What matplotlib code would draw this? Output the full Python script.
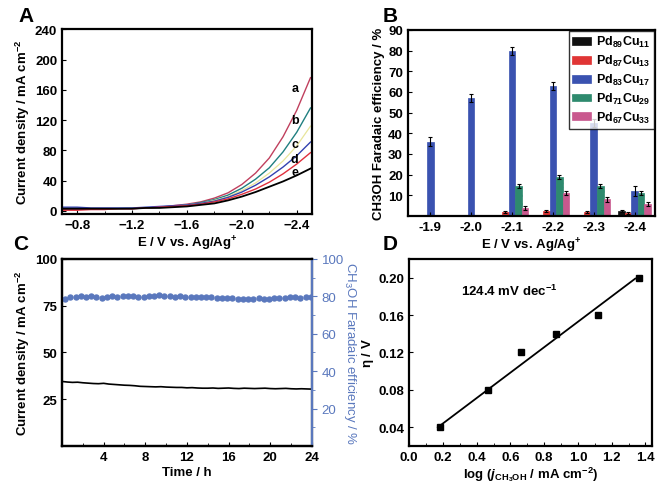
import matplotlib
matplotlib.use("Agg")
import matplotlib.pyplot as plt
import numpy as np

plt.rcParams['font.family'] = ['Liberation Sans', 'DejaVu Sans']
plt.rcParams['font.weight'] = 'bold'
plt.rcParams['axes.labelweight'] = 'bold'
plt.rcParams['mathtext.fontset'] = 'custom'
plt.rcParams['mathtext.rm'] = 'Liberation Sans:bold'
plt.rcParams['mathtext.it'] = 'Liberation Sans:italic:bold'
plt.rcParams['mathtext.bf'] = 'Liberation Sans:bold'
plt.rcParams['mathtext.default'] = 'regular'
plt.rcParams['axes.linewidth'] = 1.6

# ---- panel A: LSV curves
potential = [-0.7, -0.8, -0.9, -1.0, -1.1, -1.2, -1.3, -1.4, -1.5, -1.6,
             -1.7, -1.8, -1.9, -2.0, -2.1, -2.2, -2.3, -2.4, -2.5]
curve_a = [2, 2, 2, 2, 3, 3, 4, 5, 7, 9, 12, 17, 24, 35, 50, 70, 98, 133, 176]
curve_b = [4, 4, 3, 3, 3, 4, 4, 5, 6, 8, 11, 15, 21, 30, 42, 57, 78, 104, 136]
curve_y = [4, 4, 4, 3, 3, 4, 4, 5, 6, 8, 10, 14, 19, 27, 37, 50, 66, 86, 112]
curve_c = [5, 5, 4, 4, 4, 4, 5, 6, 7, 8, 10, 13, 18, 25, 34, 45, 58, 73, 91]
curve_d = [1, 1, 2, 2, 3, 3, 4, 5, 6, 7, 9, 12, 16, 22, 29, 38, 49, 62, 77]
curve_e = [3, 3, 3, 3, 3, 3, 4, 4, 5, 6, 8, 10, 14, 19, 25, 32, 39, 47, 56]
curve_labels = ['a', 'b', 'c', 'd', 'e']
label_pos = [(-2.385, 163), (-2.385, 120), (-2.385, 89), (-2.385, 69), (-2.385, 51)]

# ---- panel B: Faradaic efficiency bars
potentials_b = ['-1.9', '-2.0', '-2.1', '-2.2', '-2.3', '-2.4']
alloys = [r'Pd$_{89}$Cu$_{11}$', r'Pd$_{87}$Cu$_{13}$', r'Pd$_{83}$Cu$_{17}$',
          r'Pd$_{71}$Cu$_{29}$', r'Pd$_{67}$Cu$_{33}$']
fe_values = [
    [0, 0, 0, 0, 0, 2.5],
    [0, 0, 2, 2.5, 2, 1.5],
    [36, 57, 80, 63, 45, 12],
    [0, 0, 14.5, 19, 14.5, 11],
    [0, 0, 4, 11, 8, 6],
]
fe_errors = [
    [0, 0, 0, 0, 0, 0.5],
    [0, 0, 0.5, 0.5, 0.5, 0.3],
    [2, 2, 2, 2, 2, 2.5],
    [0, 0, 1, 1, 1, 1],
    [0, 0, 1, 1, 1, 1],
]
bar_colors = ['#101010', '#e03535', '#3a52b0', '#2e8a6e', '#c9588e']

# ---- panel C: stability
current = [34.5, 34.2, 34.0, 34.1, 33.8, 33.6, 33.4, 33.3, 33.5, 33.1,
           32.9, 32.7, 32.5, 32.4, 32.2, 31.9, 31.8, 31.7, 31.6, 31.7,
           31.5, 31.4, 31.3, 31.3, 31.1, 31.2, 31.0, 30.9, 30.9, 31.0,
           30.8, 30.9, 31.0, 30.8, 30.7, 30.9, 30.8, 30.7, 30.8, 30.9,
           30.7, 30.6, 30.7, 30.8, 30.6, 30.5, 30.6, 30.5, 30.4]
fe_time = [78.5, 79.8, 79.5, 80.2, 79.9, 80.3, 79.7, 79.0,
           79.6, 80.0, 79.8, 80.3, 80.1, 80.4, 79.9, 79.5,
           80.2, 80.0, 80.5, 80.1, 80.2, 79.9, 80.0, 79.8,
           79.6, 79.7, 79.5, 79.8, 79.4, 79.2, 79.0, 79.3,
           79.1, 78.8, 78.6, 78.8, 78.7, 78.9, 78.6, 78.8,
           79.0, 78.9, 79.2, 79.4, 79.6, 79.3, 79.5, 79.8]

# ---- panel D: Tafel
log_j = [0.18, 0.47, 0.66, 0.87, 1.12, 1.36]
eta = [0.04, 0.08, 0.12, 0.14, 0.16, 0.20]
fit_x = [0.17, 1.34]
fit_y = [0.040, 0.199]

fs = 9.5
fig = plt.figure(figsize=(6.61, 4.85), dpi=100)

# A
axA = fig.add_axes([0.0938, 0.5567, 0.378, 0.381])
for ys, col, lw in [(curve_a, '#c0405e', 1.0), (curve_b, '#1f7f80', 1.0),
                    (curve_y, '#e8e59a', 0.9), (curve_c, '#3342b0', 1.0),
                    (curve_d, '#e0303c', 1.0), (curve_e, '#000000', 1.3)]:
    axA.plot(potential, ys, color=col, lw=lw)
for lab, (x, y) in zip(curve_labels, label_pos):
    axA.text(x, y, lab, fontsize=fs - 0.5, ha='center', va='center')
axA.set_xlim(-0.69, -2.51)
axA.set_ylim(-4, 240)
axA.set_xticks([-0.8, -1.2, -1.6, -2.0, -2.4])
axA.set_xticks([-1.0, -1.4, -1.8, -2.2], minor=True)
axA.set_yticks(range(0, 241, 40))
axA.set_xlabel(r'E / V vs. Ag/Ag$^{+}$', fontsize=fs, labelpad=2)
axA.set_ylabel(r'Current density / mA cm$^{-2}$', fontsize=fs, labelpad=2)

# B
axB = fig.add_axes([0.617, 0.5526, 0.374, 0.3835])
x = np.arange(len(potentials_b))
w = 0.16
for i in range(len(alloys)):
    vals = np.array(fe_values[i], dtype=float)
    errs = np.array(fe_errors[i], dtype=float)
    mask = vals > 0
    hatch = '....' if i in (1, 3) else None
    axB.bar(x[mask] + (i - 2) * w, vals[mask], w, color=bar_colors[i],
            edgecolor=bar_colors[i], hatch=hatch, linewidth=0.5,
            yerr=errs[mask], capsize=1.5, error_kw=dict(lw=0.8, capthick=0.8),
            label=alloys[i])
axB.set_xlim(-0.55, 5.5)
axB.set_ylim(0, 90)
axB.set_yticks(range(10, 91, 10))
axB.set_xticks(x)
axB.set_xticklabels(potentials_b)
axB.tick_params(axis='x', length=0)
axB.set_xlabel(r'E / V vs. Ag/Ag$^{+}$', fontsize=fs, labelpad=2)
axB.set_ylabel('CH3OH Faradaic efficiency / %', fontsize=fs, labelpad=2)
leg = axB.legend(loc='upper right', fontsize=fs - 0.5, frameon=True, fancybox=False,
                 edgecolor='black', borderaxespad=0.05, handlelength=1.5,
                 handleheight=0.6, handletextpad=0.4, labelspacing=0.3,
                 borderpad=0.3)
leg.get_frame().set_linewidth(1.0)

# C
axC = fig.add_axes([0.0938, 0.0784, 0.378, 0.3856])
axC.plot(np.linspace(0, 24, len(current)), current, color='black', lw=1.2)
axC.set_xlim(0, 24)
axC.set_ylim(0, 100)
axC.set_xticks(range(4, 25, 4))
axC.set_xticks(range(2, 25, 4), minor=True)
axC.set_yticks([25, 50, 75, 100])
axC.set_xlabel('Time / h', fontsize=fs, labelpad=2)
axC.set_ylabel(r'Current density / mA cm$^{-2}$', fontsize=fs, labelpad=2)
axC2 = axC.twinx()
blue = '#5a78bd'
axC2.plot(np.linspace(0.3, 23.9, len(fe_time)), fe_time, 'o', color=blue,
          markersize=3.6)
axC2.set_ylim(0, 100)
axC2.set_yticks(range(20, 101, 20))
axC2.set_yticks(range(10, 100, 20), minor=True)
axC2.spines['right'].set_color(blue)
axC2.tick_params(axis='y', colors=blue, direction='out', labelsize=fs)
axC2.tick_params(axis='y', which='minor', colors=blue, direction='out')
for t in axC2.get_yticklabels():
    t.set_fontweight('normal')
axC2.set_ylabel(r'CH$_3$OH Faradaic efficiency / %', color=blue, rotation=270,
                fontsize=fs, fontweight='normal', labelpad=10)

# D
axD = fig.add_axes([0.619, 0.0784, 0.3676, 0.3856])
axD.plot(fit_x, fit_y, color='black', lw=1.3)
axD.plot(log_j, eta, 's', color='black', markersize=4)
axD.text(0.31, 0.186, r'124.4 mV dec$^{-1}$', fontsize=fs, va='center')
axD.set_xlim(0, 1.44)
axD.set_ylim(0.02, 0.22)
axD.set_xticks(np.arange(0, 1.41, 0.2))
axD.set_xticks(np.arange(0.1, 1.41, 0.2), minor=True)
axD.set_yticks([0.04, 0.08, 0.12, 0.16, 0.20])
axD.set_yticklabels(['0.04', '0.08', '0.12', '0.16', '0.20'])
axD.set_xlabel(r'log ($\mathit{j}_{CH_3OH}$ / mA cm$^{-2}$)', fontsize=fs, labelpad=1)
axD.set_ylabel(r'$\eta$ / V', fontsize=fs, labelpad=2)

for ax in (axA, axB, axC, axD):
    ax.tick_params(which='both', direction='in', labelsize=fs)
    ax.tick_params(which='major', length=3)
    ax.tick_params(which='minor', length=2)
axC2.tick_params(axis='y', which='both', direction='out')

for lab, (px, py) in zip('ABCD', [(18, 22), (383, 22), (13, 250), (383, 250)]):
    fig.text(px / 661, 1 - py / 485, lab, fontsize=15, fontweight='bold')

fig.savefig('out.png', dpi=100)
